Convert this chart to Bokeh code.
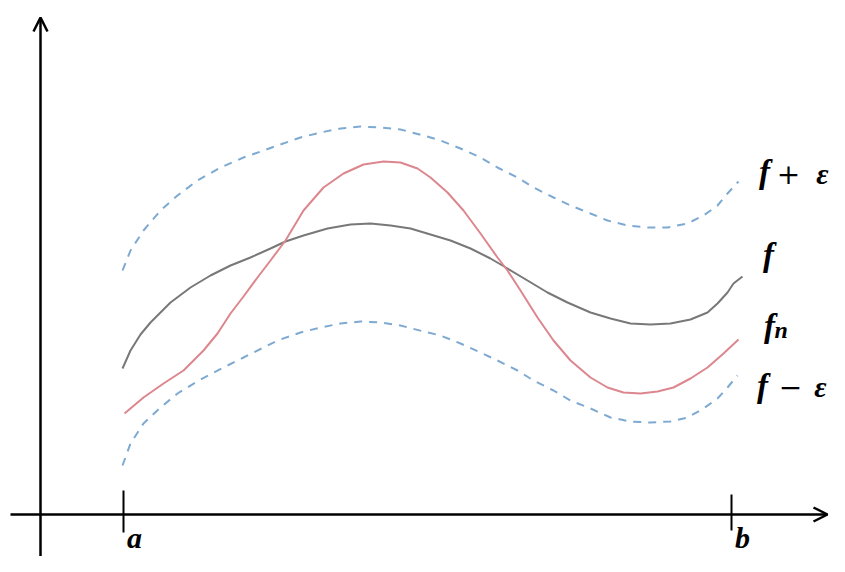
from bokeh.plotting import figure
from bokeh.models import Range1d, Arrow, OpenHead
from bokeh.core.properties import value
from bokeh.embed import file_html
from bokeh.resources import INLINE

# ---- data (y grows downward like the picture) ----
f_x = [122, 130, 140, 150, 170, 190, 210, 230, 250, 270, 285, 303, 327, 350, 370, 390, 410, 430,
       450, 470, 490, 507, 527, 547, 567, 590, 610, 630, 650, 670, 690, 707, 717, 727, 733, 742]
f_y = [368, 350, 334, 322, 302, 287, 275, 265, 257, 248, 241, 235, 228, 224, 223, 225, 228, 234,
       240, 248, 258, 268, 280, 292, 302, 312, 318, 323, 324, 323, 319, 312, 303, 292, 283, 276]

fn_x = [124, 143, 163, 183, 203, 217, 230, 243, 257, 270, 285, 303, 323, 343, 363, 383, 400, 417, 430,
        447, 463, 480, 497, 507, 520, 537, 553, 570, 590, 607, 623, 640, 657, 673, 690, 707, 723, 738]
fn_y = [413, 397, 383, 370, 350, 333, 313, 296, 277, 260, 240, 210, 187, 173, 164, 161, 162, 168, 177,
        192, 210, 233, 257, 270, 290, 317, 340, 360, 377, 387, 392, 393, 391, 387, 378, 367, 353, 339]

upper_x = [122, 130, 143, 160, 177, 197, 220, 243, 263, 277, 300, 320, 340, 360, 380, 400, 423, 440,
           460, 480, 497, 517, 533, 553, 570, 590, 607, 627, 647, 667, 687, 703, 717, 727, 738]
upper_y = [270, 250, 230, 210, 195, 180, 167, 157, 150, 145, 137, 132, 128, 126, 127, 129, 135, 140,
           148, 157, 167, 177, 187, 197, 205, 213, 220, 225, 227, 227, 223, 215, 205, 193, 181]

lower_x = [122, 130, 143, 160, 177, 200, 223, 243, 263, 277, 300, 320, 340, 360, 380, 400, 423, 440,
           460, 480, 497, 517, 533, 553, 570, 590, 610, 630, 650, 670, 687, 703, 717, 727, 737]
lower_y = [465, 443, 423, 407, 393, 379, 367, 357, 347, 340, 332, 327, 323, 321, 322, 325, 331, 335,
           343, 352, 360, 370, 380, 390, 400, 408, 417, 421, 422, 421, 417, 408, 398, 387, 375]

tick_labels = ["a", "b"]
tick_x = [123, 731]

W, H = 829, 556
p = figure(width=W, height=H, output_backend="svg", toolbar_location=None,
           x_range=Range1d(0, W), y_range=Range1d(H, 0),
           min_border=0, outline_line_color=None)
p.axis.visible = False
p.grid.visible = False
p.background_fill_color = "white"
p.border_fill_color = "white"

BLUE = "#7eaad2"
RED = "#dc868e"
GREY = "#787878"

p.line(upper_x, upper_y, line_color=BLUE, line_width=2, line_dash="8 7")
p.line(lower_x, lower_y, line_color=BLUE, line_width=2, line_dash="8 7")
p.line(f_x, f_y, line_color=GREY, line_width=2)
p.line(fn_x, fn_y, line_color=RED, line_width=2)

# axes with arrows
p.add_layout(Arrow(x_start=40, y_start=556, x_end=40, y_end=17, line_width=2.5,
                   line_color="black",
                   end=OpenHead(size=14, line_width=2.5, line_color="black")))
p.add_layout(Arrow(x_start=10, y_start=514, x_end=827, y_end=514, line_width=2.5,
                   line_color="black",
                   end=OpenHead(size=14, line_width=2.5, line_color="black")))

# ticks at a and b
p.segment(x0=tick_x, y0=[490, 494], x1=tick_x, y1=[532, 530], line_color="black", line_width=2)

serif = value("Liberation Serif")
dserif = value("DejaVu Serif")
common = dict(text_baseline="alphabetic", text_color="black")

# a, b
p.text(x=[134, 742], y=[537, 537], text=tick_labels, text_font=serif,
       text_font_style="bold italic", text_font_size="30px", text_align="center", **common)

# f (four labels)
p.text(x=[764, 768, 769, 762], y=[171, 254, 325, 385], text=["f", "f", "f", "f"],
       text_font=serif, text_font_style="bold italic", text_font_size="33px",
       text_align="center", **common)
# subscript n
p.text(x=[774], y=[329], text=["n"], text_font=serif, text_font_style="bold italic",
       text_font_size="24px", text_align="left", **common)
# + and −
p.text(x=[788, 790], y=[173, 386], text=["+", "−"], text_font=dserif,
       text_font_size="28px", text_align="center", **common)
# epsilon
p.text(x=[822, 820], y=[173, 386], text=["ε", "ε"], text_font=serif,
       text_font_style="bold italic", text_font_size="30px", text_align="center", **common)

open("out.html", "w").write(file_html(p, INLINE))
